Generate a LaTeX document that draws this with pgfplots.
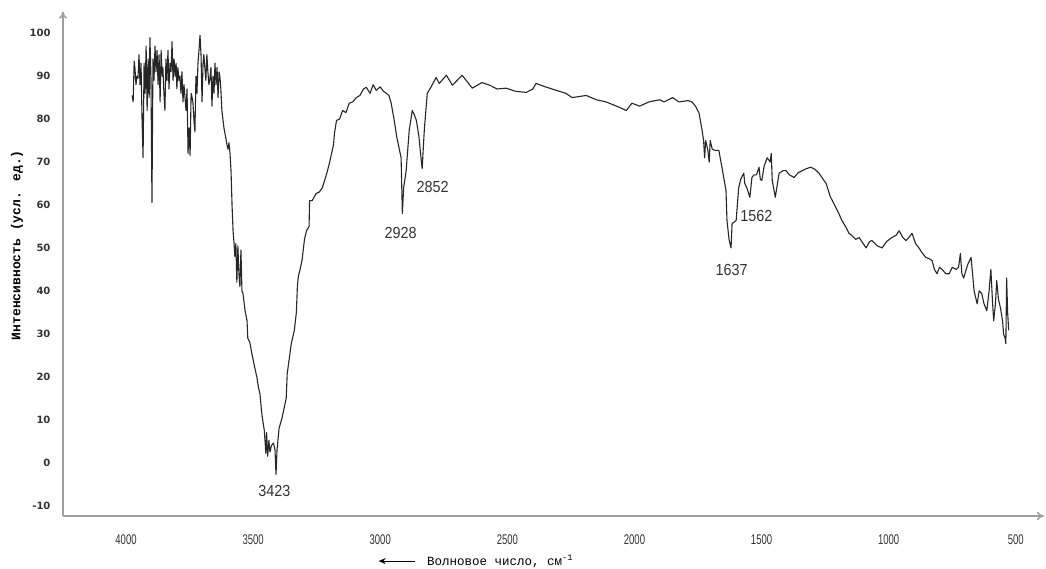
\documentclass[border=0pt]{standalone}
\usepackage{fontspec}
\setmainfont{Liberation Sans}
\newfontfamily\monof{Liberation Mono}
\newfontfamily\ytickfont{DejaVu Sans}
\newfontfamily\xtickfont[FakeStretch=0.68]{Liberation Sans}
\newfontfamily\annfont[FakeStretch=0.9]{Liberation Sans}
\usepackage{pgfplots}
\pgfplotsset{compat=1.18}
\usetikzlibrary{arrows.meta}

\pgfplotstableread{
x y
3976 85.5
3972 84
3968 93.5
3965 92
3961 88
3957 90
3953 89.5
3949 95
3945 88
3941 93
3937 80
3933 71
3929 93
3925 86
3921 97
3917 82
3913 94
3909 85
3906 99
3902 90
3898 60.6
3894 94
3890 89
3886 97
3882 91
3878 96
3874 88
3870 95
3866 84
3862 96
3858 90
3855 92
3851 86
3847 82
3843 94
3839 89
3835 96
3831 87
3827 93
3823 91
3819 98
3815 89
3811 94
3807 90
3803 93
3800 87
3796 92
3792 89
3788 90
3784 86
3780 91
3776 84
3772 88
3768 85
3764 82
3760 87
3756 72
3752 78
3748 71.5
3744 86
3740 85
3737 84
3733 80
3729 77
3725 90
3721 86
3717 93
3713 96
3709 99.5
3705 95
3701 84
3697 93
3694 95
3690 92
3686 89
3682 95
3678 91
3674 88
3670 89.5
3666 92
3662 83
3658 90
3654 86
3650 93
3646 88
3642 92
3638 85
3634 91
3631 90
3627 87
3623 82
3619 80
3615 78
3611 76.7
3607 75.5
3603 74
3599 73
3595 74.5
3591 72
3587 68
3583 60
3579 54
3575 51
3572 48
3568 51
3564 42
3560 50.5
3556 44
3552 41
3548 49.5
3544 40
3540 39.4
3532 35.5
3524 33
3521 29
3513 28
3505 25.4
3493 22
3485 19.8
3479 17.5
3473 16
3467 12
3462 9.8
3456 7.5
3450 2.2
3447 7
3443 1.5
3438 5.2
3434 2.5
3428 4
3420 4.6
3414 3
3410 -2.7
3406 3
3398 8
3386 10.5
3370 15
3366 20.7
3350 27.7
3338 30.8
3330 35
3326 41
3322 43.5
3316 44.8
3308 47
3298 52
3290 54
3280 55
3278 61
3268 61
3252 62.7
3240 63
3228 64
3212 67
3200 69.7
3184 74
3180 76.7
3172 79.7
3160 80
3148 82
3135 81.5
3122 83.7
3108 84
3094 85
3080 85.5
3066 87
3055 87.4
3040 86
3028 88
3016 86.7
3000 87.5
2988 86.5
2976 86
2966 85.5
2957 83.7
2945 79.7
2935 75.8
2925 73
2918 71
2913 58
2908 64
2898 68
2886 77.4
2874 82
2866 81
2858 79.7
2848 76
2838 70
2835 68.5
2830 74
2826 78
2815 86
2800 87.5
2780 89.7
2768 88.3
2740 90.2
2716 87.9
2678 90.2
2638 87.2
2600 88.5
2570 87.9
2540 87
2505 87.2
2470 86.5
2426 86.2
2400 87
2387 88.3
2350 87.5
2308 86.7
2270 86
2245 85
2190 85.5
2150 84.5
2112 84
2070 83
2032 82
2010 83.7
1980 83
1943 84
1900 84.5
1884 84
1850 85
1825 84
1790 84.3
1774 84
1760 83
1746 81.4
1734 77.4
1728 75
1724 71
1720 75
1712 73
1706 70
1702 75
1694 73
1682 72.7
1668 72.7
1656 68.8
1640 63.4
1636 56.4
1628 52
1620 50
1616 55.7
1608 56
1600 56.4
1590 64
1582 66
1570 67.4
1566 65
1558 64
1546 61.8
1538 66.4
1530 67
1520 67
1510 68.8
1505 66
1499 65.7
1490 69
1478 71
1466 70
1462 72
1458 65.7
1446 61.8
1431 67.4
1415 68
1404 68
1390 67
1372 66.4
1356 67.5
1340 68
1322 68.5
1306 68.8
1290 68.3
1274 67.4
1258 66
1246 65
1230 62
1208 59.4
1196 58
1184 56.4
1168 54.8
1156 53.4
1145 52.9
1130 52
1116 52.4
1100 51
1089 50
1075 51.5
1066 51.7
1045 50.5
1026 50
1008 51.5
988 52.4
970 53
959 54
945 52.5
932 51.7
920 52.5
908 53.4
894 51
881 50
870 49
854 47.8
840 47.5
829 47
820 45
810 44
800 45.5
790 45
775 44
762 44
750 45.5
735 45
725 45.5
718 48.7
712 44
705 43
690 46
676 47.8
670 44
664 40
656 38
652 37
644 40
634 39.4
625 37
614 35.4
605 40
598 45
592 38
587 33
580 37
575 42.4
568 38
560 36
552 33
548 30
542 29
539 27.7
536 43
532 35
528 30.8
}\spectrum

\begin{document}
\begin{tikzpicture}[x=1pt,y=1pt]
\path[use as bounding box] (0,0) rectangle (1046,569);
\begin{axis}[
  at={(63pt,53pt)}, anchor=south west,
  scale only axis, width=981pt, height=504.3pt,
  xmin=389, xmax=4248, x dir=reverse,
  ymin=-12.4, ymax=105,
  axis line style={draw=none},
  tick style={draw=none},
  major tick length=0pt,
  xtick={500,1000,...,4000},
  ytick={-10,0,...,100},
  /pgf/number format/assume math mode=true,
  /pgf/number format/1000 sep={},
  xticklabel style={font=\xtickfont\fontsize{14}{14}\selectfont, text=black!80, anchor=base, yshift=-29pt},
  yticklabel style={font=\ytickfont\bfseries\fontsize{10}{10}\selectfont, text=black!80, anchor=east, xshift=-9pt},
  clip=false,
  xlabel={\tikz[baseline=-0.6ex]\draw[line width=1pt,-{Stealth[length=7pt,width=6pt]}] (36pt,0)--(0,0);\hspace{12pt}Волновое число, см\textsuperscript{-1}},
  every axis x label/.style={at={(axis description cs:0.3211,-0.0972)}, anchor=base west, inner sep=0pt, font=\monof\fontsize{12.5}{12.5}\selectfont},
  ylabel={Интенсивность (усл. ед.)},
  every axis y label/.style={at={(axis description cs:-0.0469,0.537)}, rotate=90, anchor=center, font=\monof\bfseries\fontsize{13}{13}\selectfont},
]
\draw[gray!75, line width=1.6pt, -{To[length=7pt,width=8pt]}] (axis description cs:0,0) -- (axis description cs:1,0);
\draw[gray!75, line width=1.6pt, -{To[length=7pt,width=8pt]}] (axis description cs:0,0) -- (axis description cs:0,1);
\addplot[black!85, line width=1.1pt, line join=round] table {\spectrum};
\begin{scope}[every node/.style={font=\annfont\fontsize{16}{16}\selectfont, text=black!80}]
\node at (axis cs:3416,-6.5) {3423};
\node at (axis cs:2920,53.5) {2928};
\node at (axis cs:2794,64.2) {2852};
\node at (axis cs:1618,44.9) {1637};
\node at (axis cs:1520,57.5) {1562};
\end{scope}
\end{axis}
\end{tikzpicture}
\end{document}
